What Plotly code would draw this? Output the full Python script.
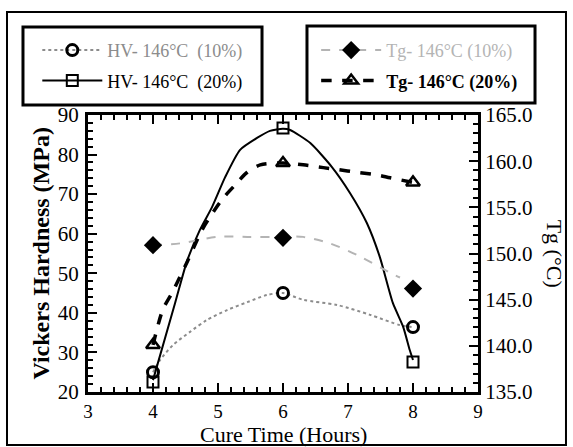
import plotly.graph_objects as go

# ---- measured data (markers) ----
cure_time = [4, 6, 8]
hv_10 = [25.0, 45.0, 36.4]
hv_20 = [22.5, 86.7, 27.6]
tg_10 = [150.9, 151.7, 146.2]
tg_20 = [140.1, 159.8, 157.7]

# ---- fitted curves ----
hv10_curve_x = [4.0, 4.11, 4.31, 4.57, 4.83, 5.14, 5.45, 5.75, 6.0, 6.31, 6.83, 7.34, 7.8, 8.0]
hv10_curve_y = [25.0, 28.1, 31.9, 35.2, 38.2, 40.7, 42.7, 44.5, 45.0, 43.3, 42.0, 39.5, 36.9, 36.4]

hv20_curve_x = [4.0, 4.34, 4.52, 4.72, 4.91, 5.11, 5.34, 5.60, 5.80, 6.0, 6.11, 6.42, 6.75, 7.03,
                7.29, 7.49, 7.69, 7.85, 7.95, 8.0]
hv20_curve_y = [23.0, 42.5, 52.9, 60.9, 66.8, 74.3, 81.2, 84.2, 86.0, 86.5, 86.2, 82.9, 76.9, 70.3,
                62.7, 54.1, 42.5, 36.4, 30.6, 28.1]

tg10_curve_x = [4.0, 4.42, 4.98, 5.45, 5.85, 6.31, 6.72, 7.15, 7.65, 7.8]
tg10_curve_y = [150.9, 151.1, 151.8, 151.8, 151.8, 151.8, 151.1, 149.8, 147.9, 147.4]

tg20_curve_x = [4.0, 4.15, 4.29, 4.52, 4.75, 4.88, 5.08, 5.26, 5.45, 5.65, 6.0, 6.31, 6.62, 6.83,
                7.14, 7.45, 7.65, 8.0]
tg20_curve_y = [140.1, 143.9, 145.7, 149.0, 152.5, 154.0, 156.0, 157.4, 158.8, 159.6, 159.8, 159.6,
                159.3, 159.1, 158.8, 158.5, 158.2, 157.7]

# ---- labels ----
name_hv10 = "HV- 146°C  (10%)"
name_hv20 = "HV- 146°C  (20%)"
name_tg10 = "Tg- 146°C (10%)"
name_tg20 = "Tg- 146°C (20%)"
x_title = "Cure Time (Hours)"
y_title = "Vickers Hardness (MPa)"
y2_title = "Tg (°C)"

SERIF = "Liberation Serif"
GRAY_HV = "#8c8c8c"
GRAY_TG = "#b4b4b4"

fig = go.Figure()

# curves
fig.add_trace(go.Scatter(x=hv10_curve_x, y=hv10_curve_y, mode="lines", showlegend=False,
                         line=dict(color=GRAY_HV, width=2, dash="dot", shape="spline", smoothing=0.8)))
fig.add_trace(go.Scatter(x=tg10_curve_x, y=tg10_curve_y, mode="lines", showlegend=False, yaxis="y2",
                         line=dict(color=GRAY_TG, width=2, dash="dash", shape="spline", smoothing=0.8)))
fig.add_trace(go.Scatter(x=hv20_curve_x, y=hv20_curve_y, mode="lines", showlegend=False,
                         line=dict(color="black", width=2, shape="spline", smoothing=0.6)))
fig.add_trace(go.Scatter(x=tg20_curve_x, y=tg20_curve_y, mode="lines", showlegend=False, yaxis="y2",
                         line=dict(color="black", width=3.5, dash="dash", shape="spline", smoothing=0.8)))

# markers
fig.add_trace(go.Scatter(x=cure_time, y=hv_10, mode="markers", showlegend=False,
                         marker=dict(symbol="circle-open", size=11, color="black", line=dict(width=3))))
fig.add_trace(go.Scatter(x=cure_time, y=hv_20, mode="markers", showlegend=False,
                         marker=dict(symbol="square-open", size=11, color="black", line=dict(width=2))))
fig.add_trace(go.Scatter(x=cure_time, y=tg_10, mode="markers", showlegend=False, yaxis="y2",
                         marker=dict(symbol="diamond", size=14, color="black")))
fig.add_trace(go.Scatter(x=cure_time, y=tg_20, mode="markers", showlegend=False, yaxis="y2",
                         marker=dict(symbol="triangle-up-open", size=12, color="black", line=dict(width=2.5))))

# legend entries
fig.add_trace(go.Scatter(x=[None], y=[None], mode="lines+markers", legend="legend", legendgroup="a",
                         name=f"<span style='color:{GRAY_HV}'>{name_hv10}</span>",
                         line=dict(color=GRAY_HV, width=2, dash="dot"),
                         marker=dict(symbol="circle-open", size=11, color="black", line=dict(width=3))))
fig.add_trace(go.Scatter(x=[None], y=[None], mode="lines+markers", legend="legend", legendgroup="b",
                         name=name_hv20,
                         line=dict(color="black", width=2),
                         marker=dict(symbol="square-open", size=11, color="black", line=dict(width=2))))
fig.add_trace(go.Scatter(x=[None], y=[None], mode="lines+markers", legend="legend2", legendgroup="c",
                         name=f"<span style='color:{GRAY_TG}'>{name_tg10}</span>", yaxis="y2",
                         line=dict(color=GRAY_TG, width=2, dash="dash"),
                         marker=dict(symbol="diamond", size=14, color="black")))
fig.add_trace(go.Scatter(x=[None], y=[None], mode="lines+markers", legend="legend2", legendgroup="d",
                         name=f"<b>{name_tg20}</b>", yaxis="y2",
                         line=dict(color="black", width=3.5, dash="dash"),
                         marker=dict(symbol="triangle-up-open", size=12, color="black", line=dict(width=2.5))))

axis_common = dict(showgrid=False, zeroline=False, showline=True, linecolor="black", linewidth=3,
                   ticks="inside", tickcolor="black", tickwidth=2)
tick_font = dict(family=SERIF, size=21, color="black")

fig.update_layout(
    width=573, height=447,
    margin=dict(l=88, r=95, t=115, b=55),
    paper_bgcolor="white", plot_bgcolor="white",
    font=dict(family=SERIF, color="black"),
    xaxis=dict(range=[3, 9], dtick=1, ticklen=9, mirror="ticks",
               tickfont=dict(family=SERIF, size=19, color="black"),
               minor=dict(dtick=0.2, ticklen=5, ticks="inside", tickwidth=2, tickcolor="black"),
               **axis_common),
    yaxis=dict(range=[20, 90], dtick=10, ticklen=9, ticklabelstandoff=2, tickfont=tick_font,
               minor=dict(dtick=2, ticklen=5, ticks="inside", tickwidth=2, tickcolor="black"),
               **axis_common),
    yaxis2=dict(range=[135, 165], dtick=5, tickformat=".1f", ticklen=9, overlaying="y", side="right",
                tickfont=tick_font,
                minor=dict(dtick=1, ticklen=5, ticks="inside", tickwidth=2, tickcolor="black"),
                **axis_common),
    legend=dict(x=-0.13, y=1.30, xanchor="left", yanchor="top", bgcolor="rgba(0,0,0,0)",
                borderwidth=0, itemwidth=60, tracegroupgap=4,
                font=dict(family=SERIF, size=18, color="black")),
    legend2=dict(x=0.585, y=1.30, xanchor="left", yanchor="top", bgcolor="rgba(0,0,0,0)",
                 borderwidth=0, itemwidth=60, tracegroupgap=4,
                 font=dict(family=SERIF, size=18, color="black")),
    shapes=[
        dict(type="rect", xref="paper", yref="paper", x0=-0.2077, x1=1.2256, y0=-0.191, y1=1.372,
             line=dict(color="black", width=2)),
        dict(type="rect", xref="paper", yref="paper", x0=-0.1667, x1=0.4462, y0=1.0361, y1=1.3177,
             line=dict(color="black", width=3)),
        dict(type="rect", xref="paper", yref="paper", x0=0.5615, x1=1.1462, y0=1.0433, y1=1.3213,
             line=dict(color="black", width=3)),
    ],
    annotations=[
        dict(text=x_title, xref="paper", yref="paper", x=0.5, y=-0.153, xanchor="center",
             yanchor="middle", showarrow=False, font=dict(family=SERIF, size=22, color="black")),
        dict(text=f"<b>{y_title}</b>", xref="paper", yref="paper", x=-0.123, y=0.5, xanchor="center",
             yanchor="middle", textangle=-90, showarrow=False,
             font=dict(family=SERIF, size=24, color="black")),
        dict(text=y2_title, xref="paper", yref="paper", x=1.197, y=0.5, xanchor="center",
             yanchor="middle", textangle=90, showarrow=False,
             font=dict(family=SERIF, size=22, color="black")),
    ],
)

fig.write_html("out.html", config={"displayModeBar": False},
               post_script="document.body.style.margin='0';")
